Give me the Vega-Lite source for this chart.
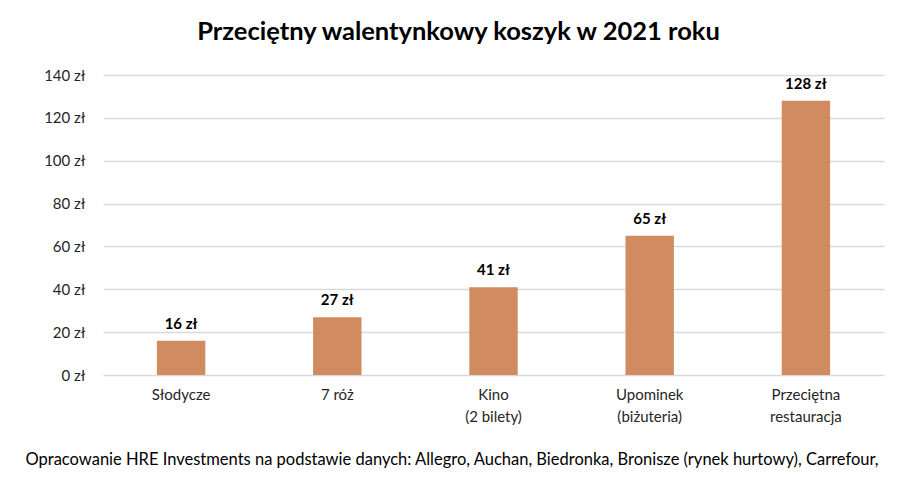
{
  "$schema": "https://vega.github.io/schema/vega-lite/v6.json",
  "width": 781,
  "height": 300,
  "autosize": {"type": "none"},
  "padding": {"left": 103, "top": 75, "right": 23, "bottom": 103},
  "background": "white",
  "config": {
    "font": "Lato",
    "view": {"stroke": null},
    "title": {"font": "Lato", "fontSize": 25.5, "fontWeight": "bold", "color": "#000000", "anchor": "middle", "offset": 23, "dx": -35}
  },
  "title": "Przeciętny walentynkowy koszyk w 2021 roku",
  "data": {
    "values": [
      {"kategoria": "Słodycze", "wartosc": 16, "etykieta": "16 zł"},
      {"kategoria": "7 róż", "wartosc": 27, "etykieta": "27 zł"},
      {"kategoria": "Kino|(2 bilety)", "wartosc": 41, "etykieta": "41 zł"},
      {"kategoria": "Upominek|(biżuteria)", "wartosc": 65, "etykieta": "65 zł"},
      {"kategoria": "Przeciętna|restauracja", "wartosc": 128, "etykieta": "128 zł"}
    ]
  },
  "encoding": {
    "x": {
      "field": "kategoria",
      "type": "nominal",
      "sort": null,
      "scale": {"paddingInner": 0.69, "paddingOuter": 0.345},
      "axis": {
        "labelExpr": "split(datum.label, '|')",
        "labelAngle": 0,
        "labelFontSize": 15,
        "labelColor": "#262626",
        "labelPadding": 12,
        "labelLineHeight": 22,
        "labelBaseline": "top",
        "ticks": false,
        "domain": false,
        "title": "Opracowanie HRE Investments na podstawie danych: Allegro, Auchan, Biedronka, Bronisze (rynek hurtowy), Carrefour,",
        "titleFontSize": 16.5,
        "titleFontWeight": "normal",
        "titleColor": "#000000",
        "titleAlign": "left",
        "titleAnchor": "start",
        "titleBaseline": "alphabetic",
        "titleX": -78,
        "titleY": 89
      }
    },
    "y": {
      "field": "wartosc",
      "type": "quantitative",
      "scale": {"domain": [0, 140]},
      "axis": {
        "values": [0, 20, 40, 60, 80, 100, 120, 140],
        "labelExpr": "datum.value + ' zł'",
        "labelFontSize": 15,
        "labelColor": "#262626",
        "labelPadding": 18,
        "ticks": false,
        "domain": false,
        "title": null,
        "gridColor": "#d9d9d9",
        "gridWidth": 1.5
      }
    }
  },
  "layer": [
    {"mark": {"type": "bar", "color": "#D08C60"}},
    {
      "mark": {"type": "text", "fontSize": 15, "fontWeight": "bold", "baseline": "bottom", "dy": -9, "color": "#000000"},
      "encoding": {"text": {"field": "etykieta", "type": "nominal"}, "y": {"field": "wartosc", "type": "quantitative"}}
    }
  ]
}
